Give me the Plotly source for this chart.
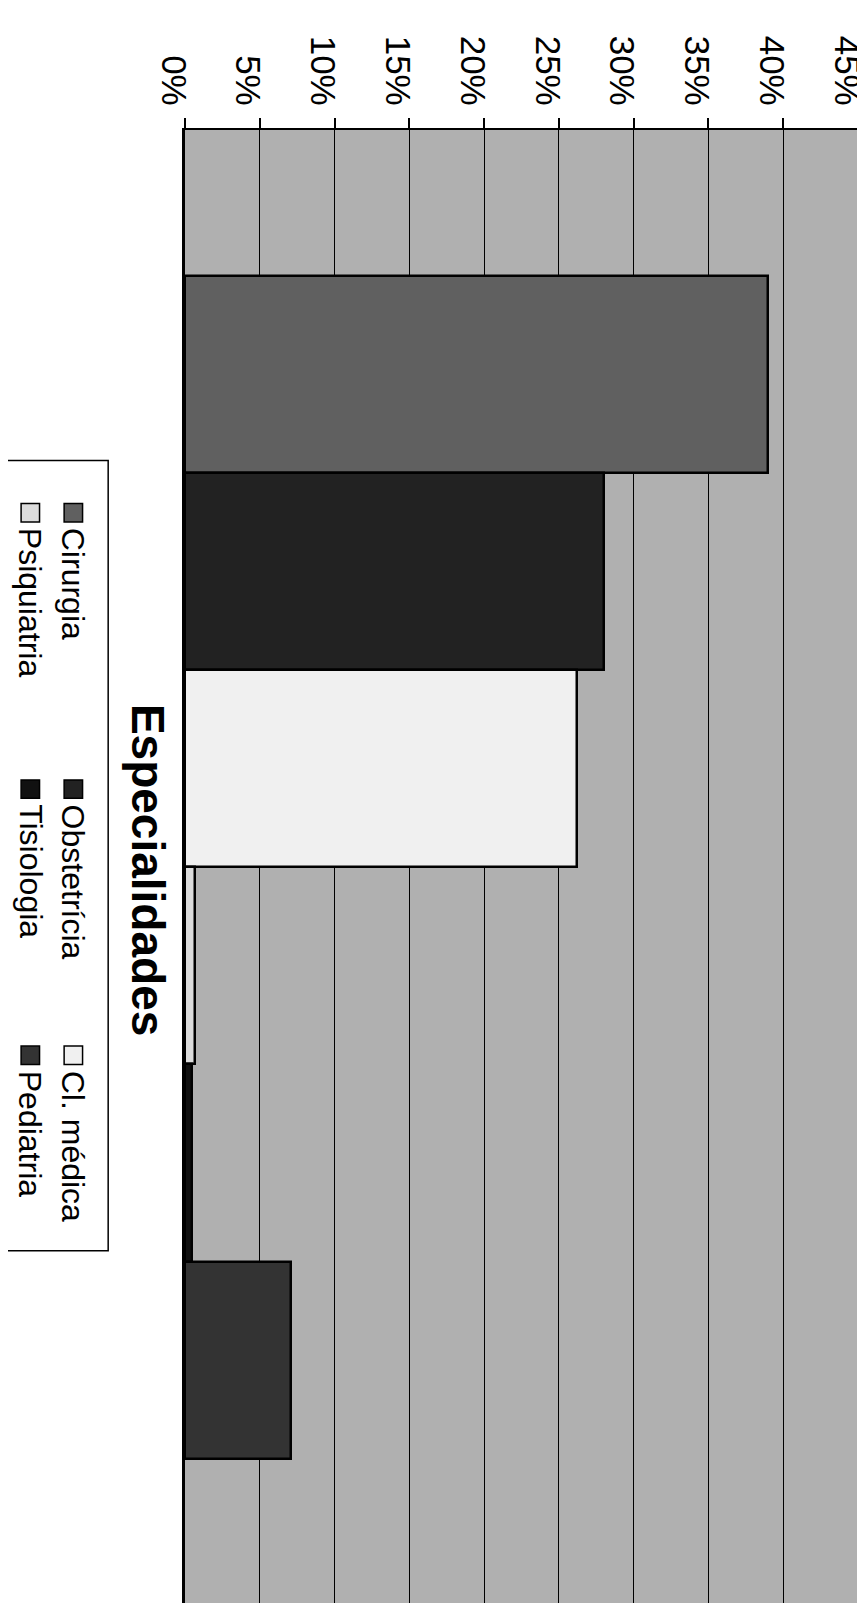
import plotly.graph_objects as go

categories = ["Cirurgia", "Obstetrícia", "Cl. médica", "Psiquiatria", "Tisiologia", "Pediatria"]
values = [39.0, 28.0, 26.2, 0.7, 0.5, 7.1]
colors = ["#606060", "#222222", "#f0f0f0", "#dcdcdc", "#111111", "#333333"]
tick_vals = [0, 5, 10, 15, 20, 25, 30, 35, 40, 45]
tick_text = ["0%", "5%", "10%", "15%", "20%", "25%", "30%", "35%", "40%", "45%"]
title_text = "Especialidades"

# the photographed page appears scaled by S, with an 8px body margin
S, OFF = 0.977, 8

def f(p):
    return p / S - OFF

W, H = 868, 1620
ML = f(181)
MR = W - f(838)
MT = f(127)
MB = 0
PW, PH = W - ML - MR, H - MT - MB

def px(x):
    return (f(x) - ML) / PW

def py(y):
    return (H - MB - f(y)) / PH

# bar group (page px 270..1425) placed via axis range
unit = f(1425) - f(270)
top_pad = (f(270) - MT) / unit
bot_pad = (H - MB - f(1425)) / unit

fig = go.Figure()
for name, v, c in zip(categories, values, colors):
    fig.add_trace(go.Bar(
        x=[v], y=[0], name=name, orientation="h",
        marker=dict(color=c, line=dict(color="black", width=2.5)),
        showlegend=False,
    ))

fig.update_layout(
    width=W, height=H,
    margin=dict(l=ML, r=MR, t=MT, b=MB),
    paper_bgcolor="white",
    plot_bgcolor="#b0b0b0",
    barmode="group", bargap=0, bargroupgap=0,
    font=dict(family="Liberation Sans, Arial, sans-serif", color="black"),
    xaxis=dict(
        side="top", range=[0, 45], tickvals=tick_vals, ticktext=tick_text,
        tickangle=90, tickfont=dict(size=35), ticks="outside", ticklen=10,
        tickcolor="black", tickwidth=1.5, ticklabeloverflow="allow",
        ticklabelshift=-12,
        showgrid=True, gridcolor="black", gridwidth=1.2,
        showline=True, linecolor="black", linewidth=2, zeroline=False,
    ),
    yaxis=dict(
        range=[0.5 + bot_pad, -0.5 - top_pad], showticklabels=False, ticks="",
        showgrid=False, zeroline=False,
        showline=True, linecolor="black", linewidth=2.5,
    ),
)

# Title (rotated)
fig.add_annotation(
    text="<b>" + title_text + "</b>", xref="paper", yref="paper",
    x=px(145), y=py(850), showarrow=False, textangle=90,
    font=dict(size=46), xanchor="center", yanchor="middle",
)

# Rotated legend
fig.add_shape(type="rect", xref="paper", yref="paper",
              x0=px(5), x1=px(106), y0=py(1222), y1=py(450),
              line=dict(color="black", width=1.5), fillcolor="white")

legend_pos = [
    (72, 490), (72, 760), (72, 1020),
    (30, 490), (30, 760), (30, 1020),
]
for (name, c), (lx, ly) in zip(zip(categories, colors), legend_pos):
    fig.add_shape(type="rect", xref="paper", yref="paper",
                  x0=px(lx - 9), x1=px(lx + 9), y0=py(ly + 20), y1=py(ly + 2),
                  line=dict(color="black", width=1.5), fillcolor=c)
    fig.add_annotation(
        text=name, xref="paper", yref="paper", x=px(lx), y=py(ly + 24),
        showarrow=False, textangle=90, font=dict(size=32),
        xanchor="center", yanchor="top",
    )

fig.write_html("out.html")
